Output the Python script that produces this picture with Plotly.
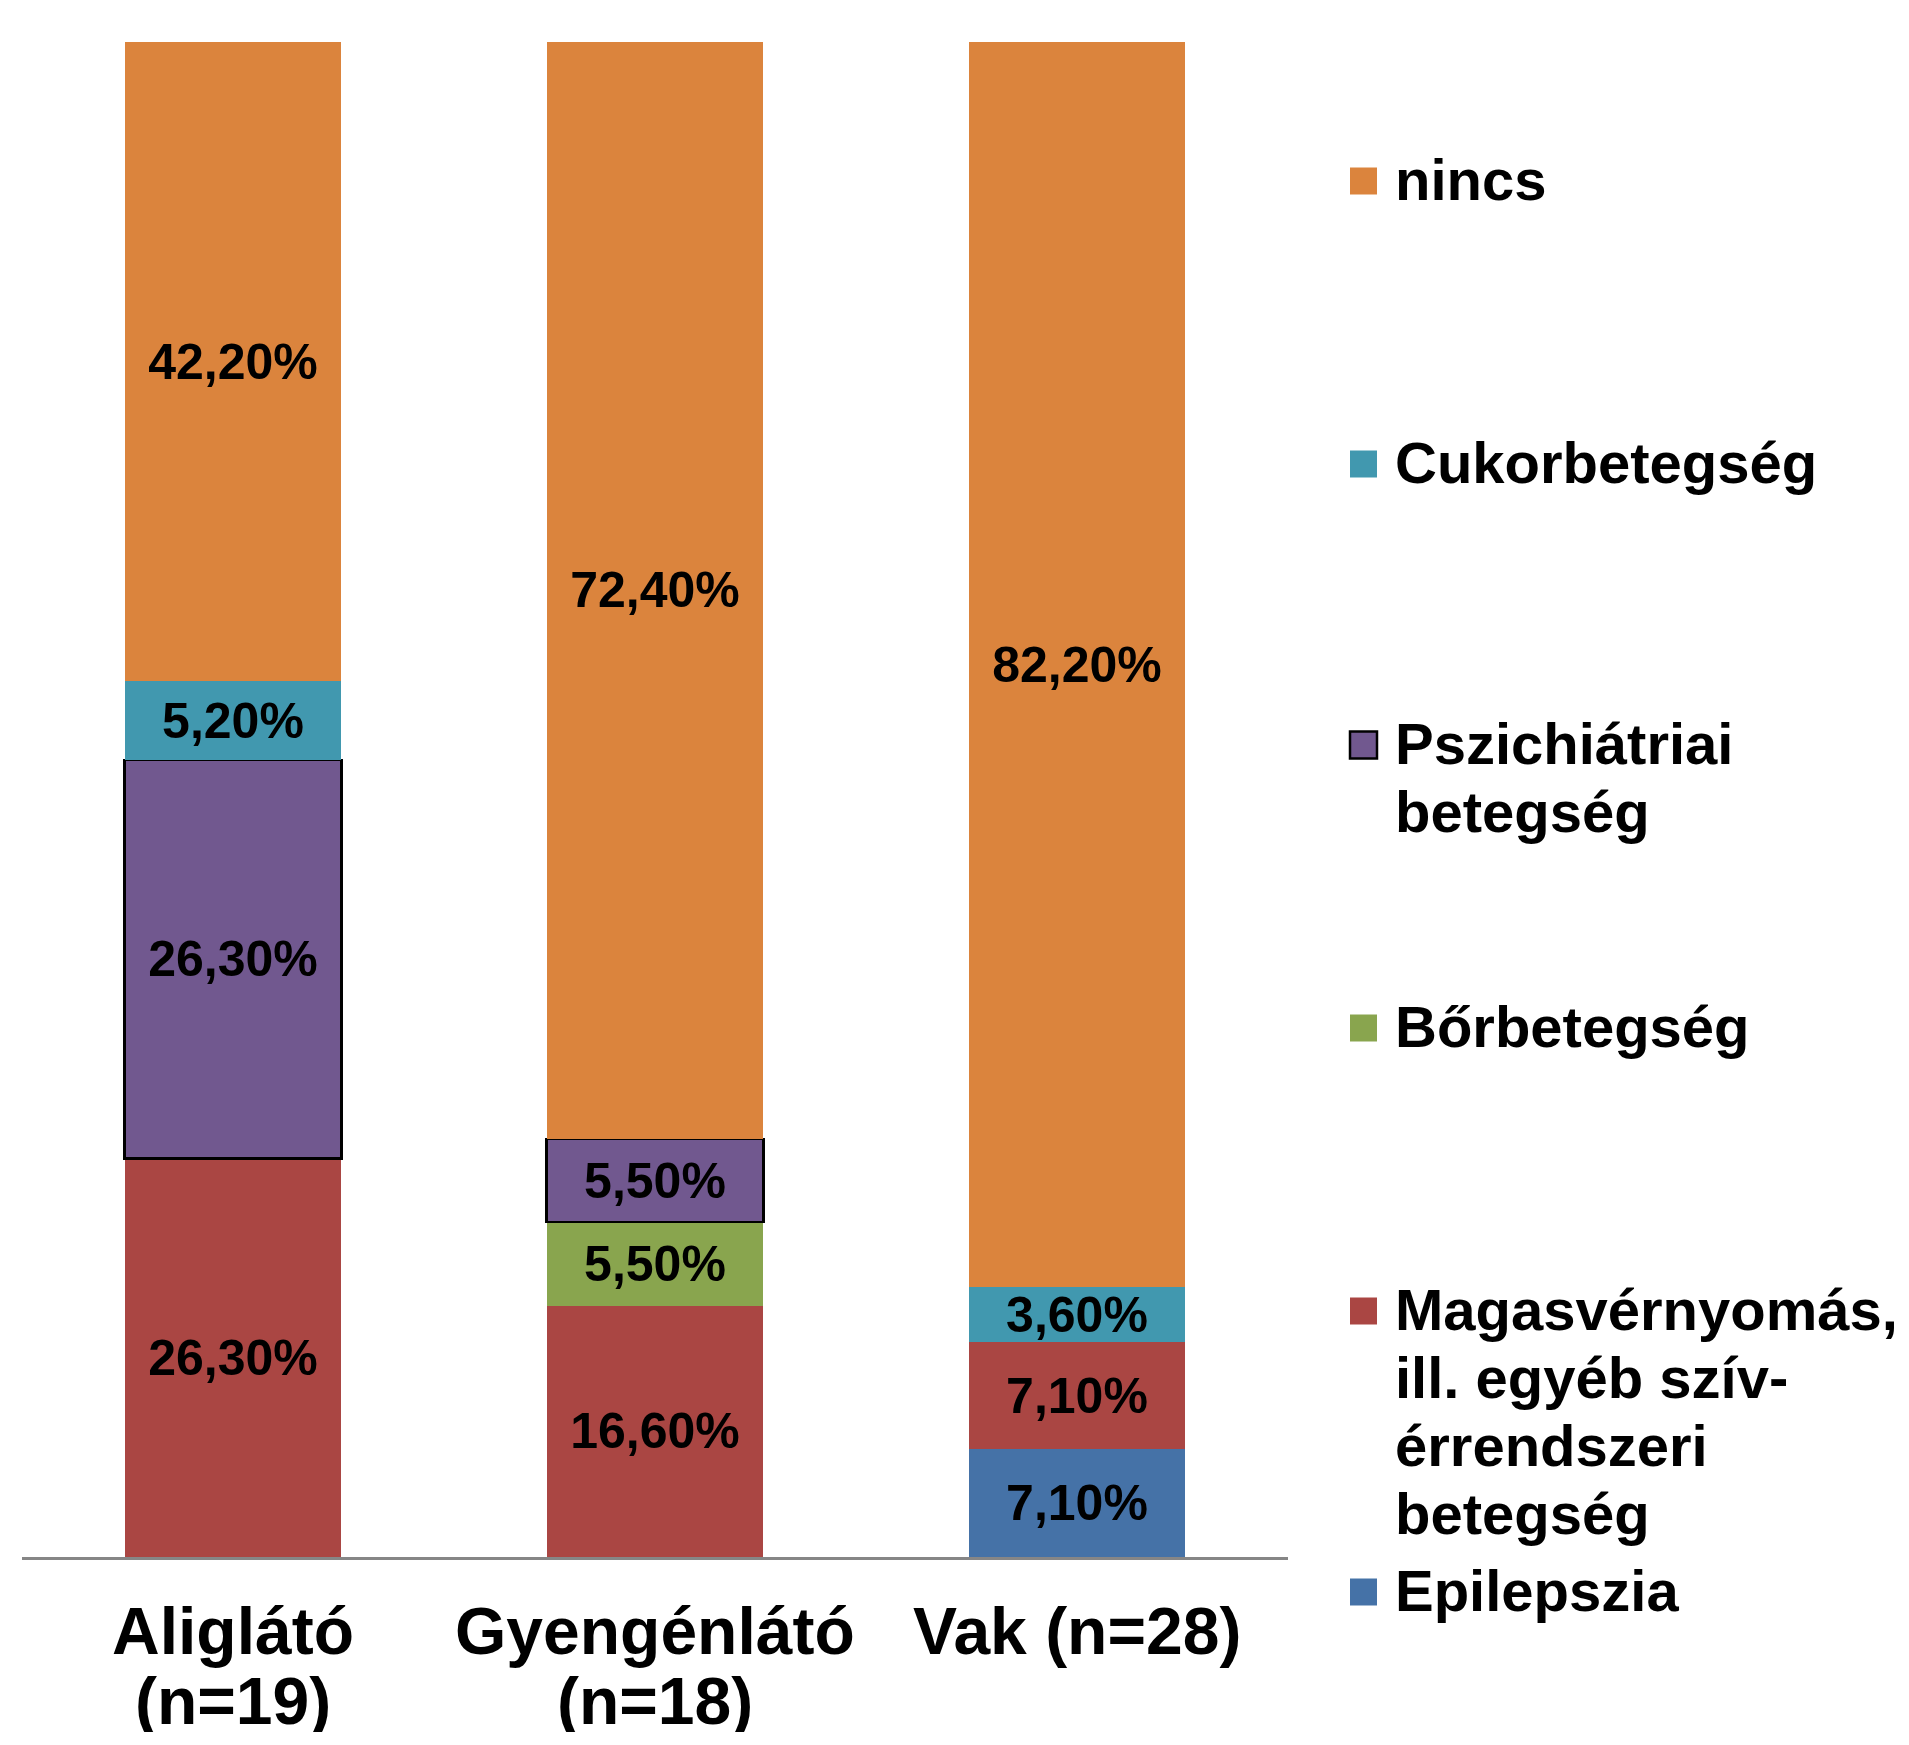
import plotly.graph_objects as go

# ---- data ----
categories = ["Aliglátó<br>(n=19)", "Gyengénlátó<br>(n=18)", "Vak (n=28)"]
series_names = [
    "Epilepszia",
    "Magasvérnyomás, ill. egyéb szív-érrendszeri betegség",
    "Bőrbetegség",
    "Pszichiátriai betegség",
    "Cukorbetegség",
    "nincs",
]
epilepszia = [None, None, 7.1]
magasvernyomas = [26.3, 16.6, 7.1]
borbetegseg = [None, 5.5, None]
pszichiatriai = [26.3, 5.5, None]
cukorbetegseg = [5.2, None, 3.6]
nincs = [42.2, 72.4, 82.2]
series_values = [epilepszia, magasvernyomas, borbetegseg, pszichiatriai, cukorbetegseg, nincs]

# legend display text (line-broken as in the original)
legend_lines = {
    "nincs": ["nincs"],
    "Cukorbetegség": ["Cukorbetegség"],
    "Pszichiátriai betegség": ["Pszichiátriai", "betegség"],
    "Bőrbetegség": ["Bőrbetegség"],
    "Magasvérnyomás, ill. egyéb szív-érrendszeri betegség":
        ["Magasvérnyomás,", "ill. egyéb szív-", "érrendszeri", "betegség"],
    "Epilepszia": ["Epilepszia"],
}

# ---- styles ----
colors = ["#4572A7", "#AA4643", "#89A54E", "#71588F", "#4198AF", "#DB843D"]
outline_w = [0, 0, 0, 2.5, 0, 0]
FONT = "Liberation Sans, Arial, sans-serif"

OFF = 8  # default page body margin
W, H = 1909 - 2 * OFF, 1745 - 2 * OFF
PLOT_X0, PLOT_X1, PLOT_Y0, PLOT_Y1 = 22 - OFF, 1288 - OFF, 42 - OFF, 1557 - OFF
ML, MR, MT, MB = PLOT_X0, W - PLOT_X1, PLOT_Y0, H - PLOT_Y1
PW, PH = PLOT_X1 - PLOT_X0, PLOT_Y1 - PLOT_Y0

fig = go.Figure()
for name, vals, col, lw in zip(series_names, series_values, colors, outline_w):
    fig.add_trace(go.Bar(
        x=categories, y=vals, name=name,
        marker=dict(color=col, line=dict(color="#000000", width=lw)),
        texttemplate="<b>%{y:.2f}%</b>",
        textposition="inside", insidetextanchor="middle", textangle=0,
        constraintext="none",
        textfont=dict(family=FONT, size=50, color="#000000"),
        showlegend=False,
    ))

fig.update_layout(
    width=W, height=H,
    margin=dict(l=ML, r=MR, t=MT, b=MB, pad=0),
    barmode="stack", bargap=0.486,
    separators=",.",
    plot_bgcolor="white", paper_bgcolor="white",
    font=dict(family=FONT, color="#000000"),
    xaxis=dict(
        showline=True, linecolor="#868686", linewidth=3,
        ticks="", showgrid=False, zeroline=False, showticklabels=False,
    ),
    yaxis=dict(range=[0, 100], visible=False, showgrid=False, zeroline=False),
)


def ypaper(page_y):
    return (PLOT_Y1 - (page_y - OFF)) / PH


def xpaper(page_x):
    return ((page_x - OFF) - PLOT_X0) / PW


# ---- category labels (one annotation per line) ----
CAT_LINE_Y = [1631, 1701]
CAT_LINE_H = [76, 62]
for cat in categories:
    for i, line in enumerate(cat.split("<br>")):
        fig.add_annotation(
            x=cat, xref="x", yref="paper", y=ypaper(CAT_LINE_Y[i]),
            xanchor="center", yanchor="middle", showarrow=False, borderpad=0,
            height=CAT_LINE_H[i], valign="middle",
            text="<b>" + line + "</b>",
            font=dict(family=FONT, size=66, color="#000000"),
        )

# ---- legend drawn with shapes + annotations ----
legend_order = ["nincs", "Cukorbetegség", "Pszichiátriai betegség", "Bőrbetegség",
                "Magasvérnyomás, ill. egyéb szív-érrendszeri betegség", "Epilepszia"]
legend_first_line_y = [179, 462, 743, 1026, 1309, 1590]
LINE_PITCH = 68
MARK_X0, MARK_SIZE = 1350, 27
TEXT_X = 1394
color_of = dict(zip(series_names, colors))
lw_of = dict(zip(series_names, outline_w))

for name, y0 in zip(legend_order, legend_first_line_y):
    lw = lw_of[name]
    fig.add_shape(
        type="rect", xref="paper", yref="paper",
        x0=xpaper(MARK_X0), x1=xpaper(MARK_X0 + MARK_SIZE),
        y0=ypaper(y0 + 2 + MARK_SIZE / 2), y1=ypaper(y0 + 2 - MARK_SIZE / 2),
        fillcolor=color_of[name],
        line=dict(color="#000000" if lw else color_of[name], width=lw if lw else 0),
    )
    for i, line in enumerate(legend_lines[name]):
        fig.add_annotation(
            xref="paper", yref="paper",
            x=xpaper(TEXT_X), y=ypaper(y0 + i * LINE_PITCH),
            xanchor="left", yanchor="middle", showarrow=False, borderpad=0,
            height=66, valign="middle",
            text="<b>" + line + "</b>",
            font=dict(family=FONT, size=58, color="#000000"),
        )

fig.write_html("out.html")
